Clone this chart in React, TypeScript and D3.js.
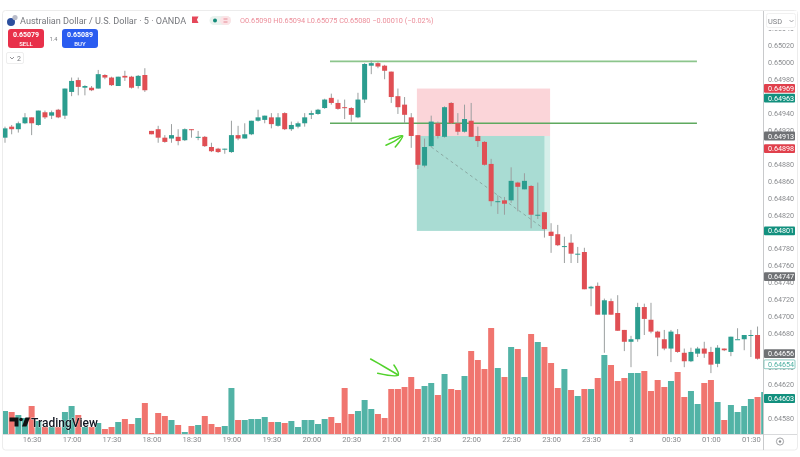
import React, { useRef, useEffect } from 'react';
import * as d3 from 'd3';

// prices are in points (price x 100000)
const opens = [64911,64924,64921,64928,64935,64926,64941,64937,64944,64937,64965,64979,64970,64970,64969,64985,64982,64972,64984,64983,64972,64985,64919,64921,64911,64910,64912,64908,64921,64912,64912,64900,64898,64897,64894,64914,64910,64915,64931,64932,64935,64925,64940,64921,64924,64928,64938,64939,64946,64958,64952,64947,64946,64935,64956,64996,64999,64996,64989,64960,64950,64935,64914,64878,64901,64928,64912,64952,64928,64918,64931,64913,64906,64880,64836,64837,64837,64858,64850,64854,64819,64823,64800,64797,64783,64787,64774,64776,64733,64736,64702,64718,64704,64684,64670,64673,64711,64696,64682,64673,64662,64679,64657,64647,64656,64662,64658,64644,64662,64658,64673,64673,64678,64678];
const highs = [64924,64926,64930,64940,64935,64943,64943,64943,64945,64969,64982,64982,64973,64972,64991,64986,64983,64983,64990,64984,64985,64993,64919,64925,64914,64927,64921,64922,64921,64919,64913,64905,64899,64898,64931,64925,64928,64931,64944,64937,64940,64940,64941,64930,64930,64940,64943,64945,64957,64963,64956,64956,64947,64964,64999,65002,65000,64997,64989,64969,64959,64940,64914,64910,64937,64930,64948,64953,64940,64950,64952,64924,64907,64886,64843,64841,64876,64859,64869,64855,64858,64823,64810,64808,64794,64797,64782,64781,64736,64740,64721,64721,64725,64684,64677,64716,64715,64716,64683,64684,64684,64685,64662,64663,64664,64670,64664,64666,64662,64676,64686,64678,64684,64688];
const lows = [64905,64915,64917,64927,64914,64925,64933,64933,64934,64933,64960,64961,64961,64966,64969,64980,64972,64972,64978,64969,64969,64965,64915,64905,64905,64905,64902,64907,64911,64908,64900,64894,64893,64892,64893,64908,64910,64914,64930,64928,64922,64924,64920,64919,64922,64924,64933,64938,64945,64950,64944,64933,64930,64934,64952,64986,64993,64980,64952,64939,64928,64899,64874,64876,64900,64910,64911,64927,64914,64917,64912,64900,64878,64830,64821,64820,64834,64824,64850,64804,64815,64793,64775,64783,64763,64763,64763,64732,64712,64702,64657,64702,64683,64659,64640,64670,64678,64680,64653,64660,64646,64657,64640,64646,64652,64651,64633,64640,64659,64653,64673,64660,64652,64649];
const closes = [64922,64921,64928,64935,64928,64943,64935,64941,64935,64969,64978,64971,64972,64967,64986,64982,64973,64983,64982,64970,64984,64967,64915,64911,64906,64914,64907,64921,64920,64912,64901,64895,64894,64898,64914,64910,64915,64931,64935,64937,64927,64935,64921,64926,64928,64935,64940,64944,64956,64952,64945,64946,64938,64956,64998,64999,64995,64990,64959,64947,64938,64913,64879,64900,64930,64913,64947,64928,64918,64933,64912,64907,64879,64836,64836,64833,64860,64853,64860,64820,64820,64803,64795,64784,64783,64774,64774,64732,64735,64702,64719,64702,64683,64670,64673,64711,64697,64682,64675,64662,64682,64658,64647,64658,64662,64656,64643,64663,64660,64676,64673,64678,64678,64650];
const volumes = [23,22,19,16,28,13,7,7,7,22,28,19,7,7,11,5,7,12,15,10,16,31,1,21,18,14,9,2,8,9,18,10,7,8,46,14,14,15,15,17,12,12,11,13,7,14,14,10,15,17,11,46,20,23,34,25,20,16,45,45,47,57,45,48,51,39,60,45,44,58,83,74,65,106,66,57,87,85,57,100,92,87,71,46,65,44,38,45,45,56,79,69,53,56,61,61,63,43,54,47,53,62,37,43,30,51,54,32,14,29,22,28,35,37,42];

// ticks that sit fully under a price tag are not shown in the reference
const priceTicks = [65040,65020,65000,64980,64940,64920,64880,64860,64840,64820,64780,64760,64740,64720,64700,64680,64640,64620,64580];
const timeBars = [4,10,16,22,28,34,40,46,52,58,64,70,76,82,88,94,100,106,112];
const timeLabels = ['16:30','17:00','17:30','18:00','18:30','19:00','19:30','20:00','20:30','21:00','21:30','22:00','22:30','23:00','23:30','3','00:30','01:00','01:30'];

const priceTags = [64969,64963,64913,64898,64801,64747,64656,64654,64603];
const tagColors = ['#e0404c','#12907e','#6f7174','#e0404c','#12907e','#6f7174','#6f7174','#ffffff','#12907e'];
const tagNudge = [-0.2,4.4,0,0,0,0,0,9,0];

const levelPrices = [65001,64928];
const levelColors = ['#8cc58c','#5fa95f'];
const levelBars = [48.8,103.9];

const GREEN = '#2b9d8f';
const RED = '#e04f54';
const VOL_GREEN = '#52b3a6';
const VOL_RED = '#f0756f';
const ARROW = '#52d22c';
const FONT = "Roboto, 'Noto Sans', sans-serif";

const App: React.FC = () => {
  const ref = useRef<SVGSVGElement | null>(null);

  useEffect(() => {
    if (!ref.current) return;
    const svg = d3.select(ref.current);
    svg.selectAll('*').remove();

    const x = d3.scaleLinear().domain([0, 114]).range([5, 764.2]);
    const y = d3.scaleLinear().domain([65000, 64580]).range([62.3, 418]);
    const v = d3.scaleLinear().domain([0, 106]).range([434, 328]);
    const bars = d3.range(opens.length);
    const rightEdge = 763.5;

    svg.append('rect').attr('width', 800).attr('height', 457).attr('fill', '#fff');

    // frame
    svg.append('rect')
      .attr('x', 2.5).attr('y', 10.5).attr('width', 795).attr('height', 439.5).attr('rx', 3)
      .attr('fill', '#fff').attr('stroke', '#ececec');

    const clip = svg.append('defs').append('clipPath').attr('id', 'pane');
    clip.append('rect').attr('x', 3).attr('y', 11).attr('width', rightEdge - 3).attr('height', 423);
    const pane = svg.append('g').attr('clip-path', 'url(#pane)');

    // volume
    pane.append('g').selectAll('rect').data(volumes).join('rect')
      .attr('x', (_, i) => x(i) - 3)
      .attr('width', 6)
      .attr('y', d => v(d))
      .attr('height', d => v(0) - v(d))
      .attr('fill', (_, i) => (i >= opens.length || closes[i] >= opens[i] ? VOL_GREEN : VOL_RED));

    // position tool
    const [entry, stop, target] = [priceTags[2], priceTags[0], priceTags[4]];
    pane.append('rect').attr('x', x(61.85)).attr('width', x(81.85) - x(61.85))
      .attr('y', y(stop)).attr('height', y(entry) - y(stop)).attr('fill', '#fbd5d9');
    pane.append('rect').attr('x', x(61.85)).attr('width', x(81.85) - x(61.85))
      .attr('y', y(entry)).attr('height', y(target) - y(entry)).attr('fill', '#d6efea');
    pane.append('rect').attr('x', x(61.85)).attr('width', x(81) - x(61.85))
      .attr('y', y(entry)).attr('height', y(target) - y(entry)).attr('fill', '#a9dcd3');
    pane.append('line')
      .attr('x1', x(64)).attr('y1', y(64900)).attr('x2', x(81)).attr('y2', y(64803))
      .attr('stroke', '#8aa8a2').attr('stroke-dasharray', '3 3');

    // levels
    levelPrices.forEach((p, i) => {
      pane.append('line')
        .attr('x1', x(levelBars[0])).attr('x2', x(levelBars[1]))
        .attr('y1', y(p)).attr('y2', y(p))
        .attr('stroke', levelColors[i]).attr('stroke-width', i === 0 ? 1.8 : 1.5);
    });

    // candles
    const candles = pane.append('g').selectAll('g').data(bars).join('g');
    candles.append('line')
      .attr('x1', i => x(i)).attr('x2', i => x(i))
      .attr('y1', i => y(highs[i])).attr('y2', i => y(lows[i]))
      .attr('stroke', '#9b9f9f');
    candles.append('rect')
      .attr('x', i => x(i) - 2.5)
      .attr('width', 5)
      .attr('y', i => y(Math.max(opens[i], closes[i])))
      .attr('height', i => Math.max(1, Math.abs(y(opens[i]) - y(closes[i]))))
      .attr('fill', i => (closes[i] >= opens[i] ? GREEN : RED));

    // hand drawn arrows, placed in bar / price space
    const line = d3.line<[number, number]>().curve(d3.curveCatmullRom);
    const arrowA: [number, number][][] = [
      [[57.2, 64902], [58.5, 64907], [59.7, 64913]],
      [[57.7, 64909], [59.7, 64913], [58.6, 64900]],
    ];
    const arrowB: [number, number][][] = [
      [[54.9, 75], [57, 67], [59.05, 59]],
      [[58.4, 69], [59.05, 59], [55.96, 60.7]],
    ];
    arrowA.forEach(s => {
      svg.append('path').attr('d', line(s.map(d => [x(d[0]), y(d[1])] as [number, number])))
        .attr('fill', 'none').attr('stroke', ARROW).attr('stroke-width', 1.5).attr('stroke-linecap', 'round');
    });
    arrowB.forEach(s => {
      svg.append('path').attr('d', line(s.map(d => [x(d[0]), v(d[1])] as [number, number])))
        .attr('fill', 'none').attr('stroke', ARROW).attr('stroke-width', 1.5).attr('stroke-linecap', 'round');
    });

    // price axis
    const yAxis = d3.axisRight(y)
      .tickValues(priceTicks)
      .tickSize(0)
      .tickPadding(4.5)
      .tickFormat(d => (+d / 100000).toFixed(5));
    const yg = svg.append('g').attr('transform', `translate(${rightEdge},0)`).call(yAxis);
    yg.select('.domain').remove();
    yg.selectAll('text').attr('fill', '#8b8d90').attr('font-size', 7.2).attr('font-family', FONT);

    // time axis
    const xAxis = d3.axisBottom(x)
      .tickValues(timeBars)
      .tickSize(0)
      .tickPadding(3)
      .tickFormat((_, i) => timeLabels[i]);
    const xg = svg.append('g').attr('transform', 'translate(0,434)').call(xAxis);
    xg.select('.domain').remove();
    xg.selectAll('text').attr('fill', '#8b8d90').attr('font-size', 7.6).attr('font-family', FONT);

    svg.append('line').attr('x1', 3).attr('x2', 797).attr('y1', 434.5).attr('y2', 434.5).attr('stroke', '#d9dadc');
    svg.append('line').attr('x1', rightEdge).attr('x2', rightEdge).attr('y1', 11).attr('y2', 450).attr('stroke', '#c9cacc');

    // USD box, sits over the clipped top tick
    svg.append('rect').attr('x', 764).attr('y', 11).attr('width', 33).attr('height', 19).attr('fill', '#fff');
    svg.append('rect').attr('x', 766.5).attr('y', 13.5).attr('width', 29).attr('height', 14).attr('rx', 2)
      .attr('fill', '#fff').attr('stroke', '#f0f0f0');
    svg.append('text').attr('x', 768).attr('y', 23.5).attr('font-size', 7.4).attr('fill', '#7d7f83')
      .attr('font-family', FONT).text('USD');
    svg.append('path').attr('d', 'M789.5 20 l2 2 l2 -2').attr('fill', 'none').attr('stroke', '#8b8d90').attr('stroke-width', 0.8);

    // price tags
    const tags = svg.append('g').selectAll('g').data(priceTags).join('g')
      .attr('transform', (d, i) => `translate(${rightEdge + 0.5},${y(d) + tagNudge[i]})`);
    tags.append('rect')
      .attr('y', -4.4).attr('width', 31).attr('height', 8.8).attr('rx', 1)
      .attr('fill', (_, i) => tagColors[i])
      .attr('stroke', (_, i) => (tagColors[i] === '#ffffff' ? '#5cb5a8' : 'none'))
      .attr('stroke-width', 0.7);
    tags.append('text')
      .attr('x', 4).attr('y', 2.6).attr('font-size', 7.2).attr('font-family', FONT)
      .attr('fill', (_, i) => (tagColors[i] === '#ffffff' ? '#4fb0a2' : '#fff'))
      .text(d => (d / 100000).toFixed(5));

    // settings button
    svg.append('circle').attr('cx', 780).attr('cy', 441.5).attr('r', 3.6)
      .attr('fill', 'none').attr('stroke', '#8b8d90').attr('stroke-width', 0.8);
    svg.append('circle').attr('cx', 780).attr('cy', 441.5).attr('r', 1.2).attr('fill', '#8b8d90');

    // header
    svg.append('circle').attr('cx', 11).attr('cy', 22).attr('r', 4).attr('fill', '#2c4f9e');
    svg.append('circle').attr('cx', 15).attr('cy', 17.5).attr('r', 2.6).attr('fill', '#b9bcc9');
    svg.append('text').attr('x', 20).attr('y', 23.6).attr('font-size', 9.1).attr('fill', '#76787d')
      .attr('font-family', FONT).text('Australian Dollar / U.S. Dollar · 5 · OANDA');
    svg.append('path').attr('d', 'M192 16.5 h6.5 l-1.6 3.2 l1.6 3.2 h-6.5 z').attr('fill', '#e5485a');
    svg.append('rect').attr('x', 209.5).attr('y', 16).attr('width', 21.5).attr('height', 9).attr('rx', 4.5).attr('fill', '#eaf2ee');
    svg.append('rect').attr('x', 220).attr('y', 16).attr('width', 11).attr('height', 9).attr('rx', 4.5).attr('fill', '#fbe3e6');
    svg.append('circle').attr('cx', 215).attr('cy', 20.5).attr('r', 2).attr('fill', '#128a78');
    svg.append('path').attr('d', 'M223.5 19 h4 M223.5 22 h4').attr('stroke', '#e58a96').attr('stroke-width', 1);
    svg.append('text').attr('x', 240).attr('y', 23.3).attr('font-size', 7.3).attr('fill', '#ec8e9a')
      .attr('font-family', FONT).text('O0.65090  H0.65094  L0.65075  C0.65080  −0.00010 (−0.02%)');

    // buy / sell
    const buttons = [
      { x: 8, color: '#e8304a', price: '0.65079', label: 'SELL' },
      { x: 62, color: '#2a5cf0', price: '0.65089', label: 'BUY' },
    ];
    buttons.forEach(b => {
      svg.append('rect').attr('x', b.x).attr('y', 29).attr('width', 36).attr('height', 19).attr('rx', 3).attr('fill', b.color);
      svg.append('text').attr('x', b.x + 18).attr('y', 37).attr('text-anchor', 'middle').attr('font-size', 7)
        .attr('font-weight', 700).attr('fill', '#fff').attr('font-family', FONT).text(b.price);
      svg.append('text').attr('x', b.x + 18).attr('y', 45.5).attr('text-anchor', 'middle').attr('font-size', 6)
        .attr('font-weight', 500).attr('fill', '#fff').attr('font-family', FONT).text(b.label);
    });
    svg.append('text').attr('x', 53.5).attr('y', 41).attr('text-anchor', 'middle').attr('font-size', 5.5)
      .attr('fill', '#77797d').attr('font-family', FONT).text('1.4');
    svg.append('rect').attr('x', 6.5).attr('y', 52.5).attr('width', 17).attr('height', 11).attr('rx', 1.5)
      .attr('fill', '#fff').attr('stroke', '#eeeeee');
    svg.append('path').attr('d', 'M10 57 l2 2 l2 -2').attr('fill', 'none').attr('stroke', '#77797d').attr('stroke-width', 0.8);
    svg.append('text').attr('x', 17).attr('y', 60.6).attr('font-size', 7).attr('fill', '#77797d')
      .attr('font-family', FONT).text('2');

    // logo
    svg.append('path').attr('d', 'M9.5 417.5 h9 v9 h-4 v-5 h-5 z').attr('fill', '#111');
    svg.append('circle').attr('cx', 21).attr('cy', 419.5).attr('r', 1.8).attr('fill', '#111');
    svg.append('path').attr('d', 'M22 426.5 L25.5 417.5 H30 L26.5 426.5 z').attr('fill', '#111');
    svg.append('text').attr('x', 31).attr('y', 426.5).attr('font-size', 12).attr('font-weight', 500)
      .attr('fill', '#131722').attr('stroke', '#fff').attr('stroke-width', 0.3).attr('paint-order', 'stroke')
      .attr('font-family', FONT).text('TradingView');
  }, []);

  return <svg ref={ref} width={800} height={457} style={{ position: 'absolute', top: 0, left: 0, display: 'block', filter: 'blur(0.35px)' }} />;
};

export default App;
